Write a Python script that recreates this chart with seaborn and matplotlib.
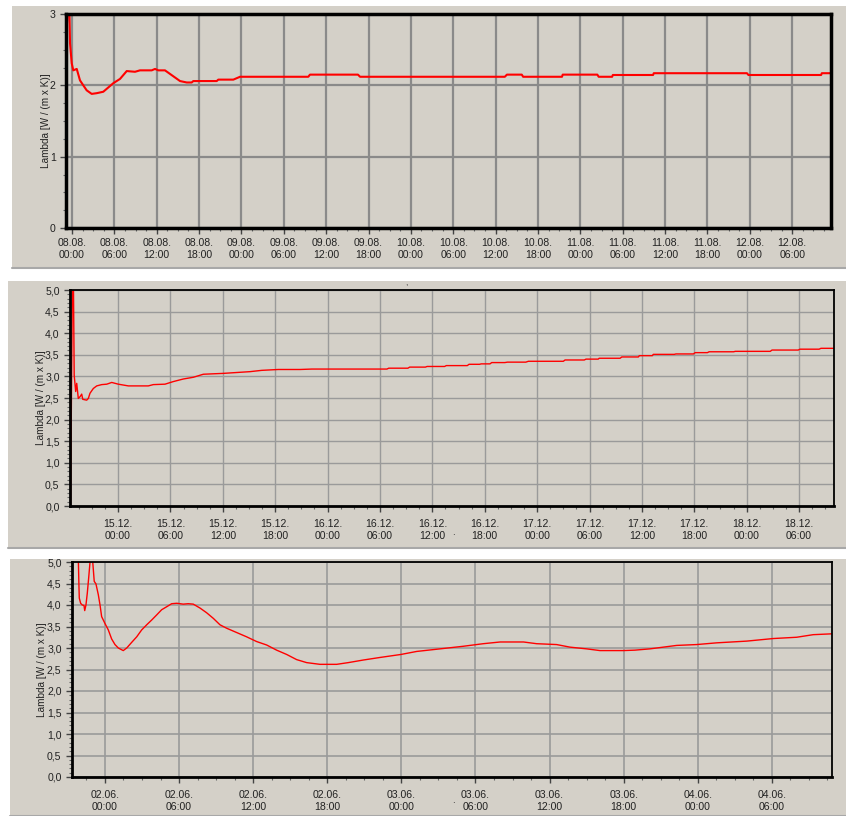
import pandas as pd
import matplotlib
matplotlib.use("Agg")
import matplotlib.pyplot as plt
import matplotlib.ticker as mticker
from matplotlib.patches import Rectangle
from matplotlib.lines import Line2D
import seaborn as sns

# ---------------------------------------------
# data (hours after first labelled tick, lambda values)
# ---------------------------------------------
p1_start = pd.Timestamp("2008-08-08 00:00")
p1_hours = [-0.80, -0.72, -0.55, -0.40, -0.28, -0.04, 0.18, 0.67, 1.13, 1.6, 2.08, 2.79,
            3.5, 4.43, 5.14, 5.85, 6.8, 7.75, 8.92, 9.63, 11.29, 11.76, 12.22, 13.17,
            13.88, 14.59, 15.3, 16.25, 16.95, 17.18, 20.5, 20.72, 22.85, 23.8, 33.47,
            33.7, 40.5, 40.8, 61.3, 61.6, 63.7, 63.9, 69.4, 69.5, 74.4, 74.6, 76.5,
            76.6, 82.3, 82.4, 95.6, 95.8, 106.1, 106.2, 107.5]
p1_lambda = [2.78, 2.85, 3.2, 3.2, 2.59, 2.31, 2.21, 2.23, 2.07, 2.0, 1.93, 1.88,
             1.89, 1.91, 1.97, 2.03, 2.09, 2.20, 2.19, 2.21, 2.21, 2.23, 2.21, 2.21,
             2.16, 2.11, 2.06, 2.04, 2.04, 2.06, 2.06, 2.08, 2.08, 2.12, 2.12,
             2.15, 2.15, 2.12, 2.12, 2.15, 2.15, 2.12, 2.12, 2.15, 2.15, 2.12, 2.12,
             2.145, 2.145, 2.17, 2.17, 2.145, 2.145, 2.17, 2.17]

p2_start = pd.Timestamp("2008-12-15 00:00")
p2_hours = [-5.44, -5.21, -5.12, -5.02, -4.85, -4.73, -4.55, -4.35, -4.16, -4.04, -3.59,
            -3.40, -3.21, -2.83, -2.44, -1.87, -1.29, -0.72, 0.03, 1.18, 3.47, 4.04,
            5.38, 6.33, 7.48, 8.63, 9.77, 12.06, 15.12, 16.46, 18.36, 20.85, 22.2,
            30.8, 31.0, 33.2, 33.4, 35.2, 35.4, 37.4, 37.6, 40.0, 40.2, 41.4, 41.6,
            42.6, 42.8, 44.3, 44.6, 46.7, 47.0, 51.0, 51.2, 53.4, 53.6, 55.0, 55.1,
            57.5, 57.7, 59.6, 59.7, 61.2, 61.3, 63.7, 63.9, 65.9, 66.1, 67.5, 67.7,
            70.5, 70.7, 74.7, 74.9, 77.9, 78.1, 80.3, 80.5, 82.0]
p2_lambda = [0.0, 5.5, 5.5, 3.03, 2.65, 2.84, 2.49, 2.53, 2.59, 2.47, 2.45,
             2.49, 2.61, 2.72, 2.78, 2.81, 2.82, 2.86, 2.82, 2.78, 2.78, 2.81,
             2.82, 2.88, 2.94, 2.98, 3.05, 3.07, 3.11, 3.14, 3.16, 3.16, 3.17,
             3.17, 3.19, 3.19, 3.215, 3.215, 3.23, 3.23, 3.25, 3.25, 3.28, 3.28, 3.29,
             3.29, 3.32, 3.32, 3.33, 3.33, 3.35, 3.35, 3.38, 3.38, 3.40, 3.40, 3.42,
             3.42, 3.45, 3.45, 3.48, 3.48, 3.51, 3.51, 3.52, 3.52, 3.55, 3.55, 3.57,
             3.57, 3.58, 3.58, 3.61, 3.61, 3.63, 3.63, 3.65, 3.65]

p3_start = pd.Timestamp("2009-06-02 00:00")
p3_hours = [-2.2, -2.11, -2.08, -1.97, -1.84, -1.70, -1.64, -1.54, -1.43, -1.32, -1.21,
            -1.13, -0.99, -0.87, -0.73, -0.54, -0.40, -0.27, 0.0, 0.27, 0.54, 0.81,
            1.08, 1.48, 1.76, 2.16, 2.57, 2.97, 3.38, 3.78, 4.19, 4.59, 5.0, 5.40,
            5.81, 6.34, 6.74, 7.15, 7.69, 8.23, 8.77, 9.31, 9.85, 10.66, 11.47, 12.28,
            13.09, 13.90, 14.71, 15.52, 16.33, 17.41, 18.76, 19.70, 20.91, 22.27,
            23.97, 25.24, 27.13, 29.01, 30.63, 32.0, 33.89, 34.95, 36.57, 37.65,
            39.0, 40.08, 41.97, 42.91, 44.13, 46.29, 47.91, 49.53, 51.96, 54.11,
            56.01, 57.35, 58.89]
p3_lambda = [5.6, 4.47, 4.16, 4.04, 4.0, 3.99, 3.87, 4.0, 4.28, 4.63, 5.0,
             5.15, 5.0, 4.55, 4.49, 4.24, 4.0, 3.73, 3.57, 3.42, 3.21, 3.08,
             3.0, 2.94, 3.0, 3.13, 3.26, 3.42, 3.54, 3.65, 3.77, 3.89, 3.96, 4.03,
             4.04, 4.02, 4.03, 4.02, 3.93, 3.82, 3.69, 3.54, 3.46, 3.36, 3.26, 3.15,
             3.07, 2.95, 2.85, 2.73, 2.66, 2.62, 2.62, 2.66, 2.72, 2.78,
             2.85, 2.92, 2.98, 3.04, 3.10, 3.14, 3.14, 3.10, 3.08, 3.02,
             2.98, 2.94, 2.94, 2.95, 2.98, 3.06, 3.08, 3.12, 3.16, 3.22,
             3.25, 3.31, 3.33]

ylabel = "Lambda [W / (m x K)]"
BG = "#d4d0c8"
W, H = 846, 816

sns.set_theme(style="ticks")
plt.rcParams["font.family"] = ["Liberation Sans", "DejaVu Sans"]

fig = plt.figure(figsize=(W / 100, H / 100), dpi=100, facecolor="white")


def px_box(left, top, right, bottom):
    return [left / W, 1 - bottom / H, (right - left) / W, (bottom - top) / H]


# beige screenshot panels (behind the axes)
for (l, t, r, b) in [(12, 6, 846, 268), (8, 281, 846, 548), (10, 559, 846, 816)]:
    x0, y0, w, h = px_box(l, t, r, b)
    fig.patches.append(Rectangle((x0, y0), w, h, transform=fig.transFigure,
                                 facecolor=BG, edgecolor="none", zorder=-5))
    fig.lines.append(Line2D([x0, 1], [y0, y0], transform=fig.transFigure,
                            color="#a8a8a8", linewidth=1.5, zorder=-4))


def time_fmt(start):
    def f(h, pos):
        return (start + pd.Timedelta(hours=h)).strftime("%d.%m.\n%H:%M")
    return f


def comma_fmt(v, pos):
    return f"{v:.1f}".replace(".", ",")


panels = [
    dict(box=(66, 14, 831, 228), hours=p1_hours, vals=p1_lambda, start=p1_start,
         xlim=(-0.85, 107.5), ylim=(0, 3), ymaj=1, ymin=0.25, fmt=None,
         lw=1.5, grid_lw=1.6, grid_c="#8a8a8a", spine_w=(2.5, 2.5, 2.5, 2.5),
         lab_x=51, pad=3.5),
    dict(box=(70, 290, 834, 506), hours=p2_hours, vals=p2_lambda, start=p2_start,
         xlim=(-5.5, 82.0), ylim=(0, 5), ymaj=0.5, ymin=0.1, fmt=comma_fmt,
         lw=1.0, grid_lw=1.0, grid_c="#9a9a9a", spine_w=(2.0, 2.0, 1.3, 1.3),
         lab_x=46, pad=5.5),
    dict(box=(72, 562, 832, 777), hours=p3_hours, vals=p3_lambda, start=p3_start,
         xlim=(-2.67, 58.87), ylim=(0, 5), ymaj=0.5, ymin=0.1, fmt=comma_fmt,
         lw=1.0, grid_lw=1.2, grid_c="#9a9a9a", spine_w=(2.0, 2.0, 1.3, 1.3),
         lab_x=47, pad=5.5),
]

for p in panels:
    l, t, r, b = p["box"]
    ax = fig.add_axes(px_box(l, t, r, b))
    ax.set_facecolor(BG)
    df = pd.DataFrame({"hours": p["hours"], "lambda": p["vals"]})
    sns.lineplot(data=df, x="hours", y="lambda", ax=ax, color="#ff0000",
                 linewidth=p["lw"], sort=False, estimator=None, zorder=3)
    ax.set_xlim(*p["xlim"])
    ax.set_ylim(*p["ylim"])

    ax.xaxis.set_major_locator(mticker.MultipleLocator(6))
    ax.xaxis.set_minor_locator(mticker.MultipleLocator(1.5))
    ax.xaxis.set_major_formatter(mticker.FuncFormatter(time_fmt(p["start"])))
    ax.yaxis.set_major_locator(mticker.MultipleLocator(p["ymaj"]))
    ax.yaxis.set_minor_locator(mticker.MultipleLocator(p["ymin"]))
    if p["fmt"] is not None:
        ax.yaxis.set_major_formatter(mticker.FuncFormatter(p["fmt"]))

    ax.grid(True, which="major", color=p["grid_c"], linewidth=p["grid_lw"], zorder=1)
    ax.set_axisbelow(True)
    ax.tick_params(which="major", direction="out", length=4, width=1,
                   color="#444444", labelsize=7.6, labelcolor="#222222")
    ax.tick_params(axis="x", which="major", pad=p["pad"])
    ax.tick_params(which="minor", direction="out", length=2.5, width=0.8, color="#666666")
    for lab in ax.get_xticklabels():
        lab.set_horizontalalignment("center")

    lw_l, lw_b, lw_t, lw_r = p["spine_w"]
    for side, w in zip(["left", "bottom", "top", "right"], [lw_l, lw_b, lw_t, lw_r]):
        ax.spines[side].set_visible(True)
        ax.spines[side].set_color("black")
        ax.spines[side].set_linewidth(w)
        ax.spines[side].set_zorder(4)

    ax.set_xlabel("")
    ax.set_ylabel(ylabel, fontsize=7.2, color="#222222")
    ax.yaxis.set_label_coords((p["lab_x"] - l) / (r - l), 0.5)

# small stray marks from the original screenshots
fig.text(405 / W, 1 - 285 / H, ",", fontsize=6, color="#333333")
fig.text(452 / W, 1 - 535 / H, ".", fontsize=7, color="#222222")
fig.text(452 / W, 1 - 803 / H, ".", fontsize=7, color="#222222")

fig.savefig("out.png", dpi=100, facecolor="white")
